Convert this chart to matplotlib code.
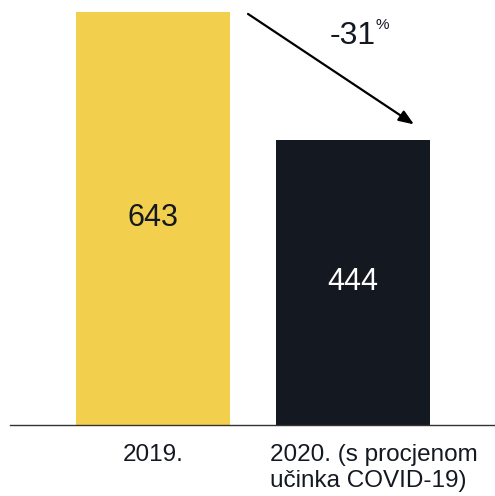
import matplotlib.pyplot as plt

plt.rcParams['font.family'] = ['Liberation Sans', 'DejaVu Sans']

# data
kategorije = ['2019.', '2020. (s procjenom\nučinka COVID-19)']
vrijednosti = [643, 444]
boje = ['#F2CF4D', '#141821']
boje_teksta = ['#141821', 'white']
promjena = '-31'

fig = plt.figure(figsize=(4.95, 4.96), dpi=100)
ax = fig.add_axes([10 / 495, 71 / 496, 485 / 495, 413 / 496])

x = list(range(len(kategorije)))
ax.bar(x, vrijednosti, width=0.77, color=boje)
ax.set_xlim(-0.715, 1.71)
ax.set_ylim(0, vrijednosti[0])

# values in the middle of the bars
for xi, v, c in zip(x, vrijednosti, boje_teksta):
    ax.text(xi, v / 2, str(v), ha='center', va='center', fontsize=22, color=c)

# category labels
ax.text(x[0], -30, kategorije[0], ha='center', va='top', fontsize=17.5,
        color='#141821', linespacing=1.22, clip_on=False)
ax.text(x[1] - 0.415, -30, kategorije[1], ha='left', va='top', fontsize=17.5,
        color='#141821', linespacing=1.22, clip_on=False)

# arrow with the change
ax.annotate('', xy=(1.305, 468), xytext=(0.475, 640),
            arrowprops=dict(arrowstyle='-|>,head_length=0.9,head_width=0.35',
                            color='black', lw=1.6, shrinkA=0, shrinkB=0),
            annotation_clip=False)
ax.text(1.0, 605, promjena, ha='center', va='center', fontsize=23, color='#141821')
ax.text(1.115, 622, '%', ha='left', va='center', fontsize=11, color='#141821')

# only the baseline
for s in ['top', 'right', 'left']:
    ax.spines[s].set_visible(False)
ax.spines['bottom'].set_color('#333333')
ax.spines['bottom'].set_linewidth(1)
ax.set_xticks([])
ax.set_yticks([])

fig.savefig('out.png', dpi=100)
